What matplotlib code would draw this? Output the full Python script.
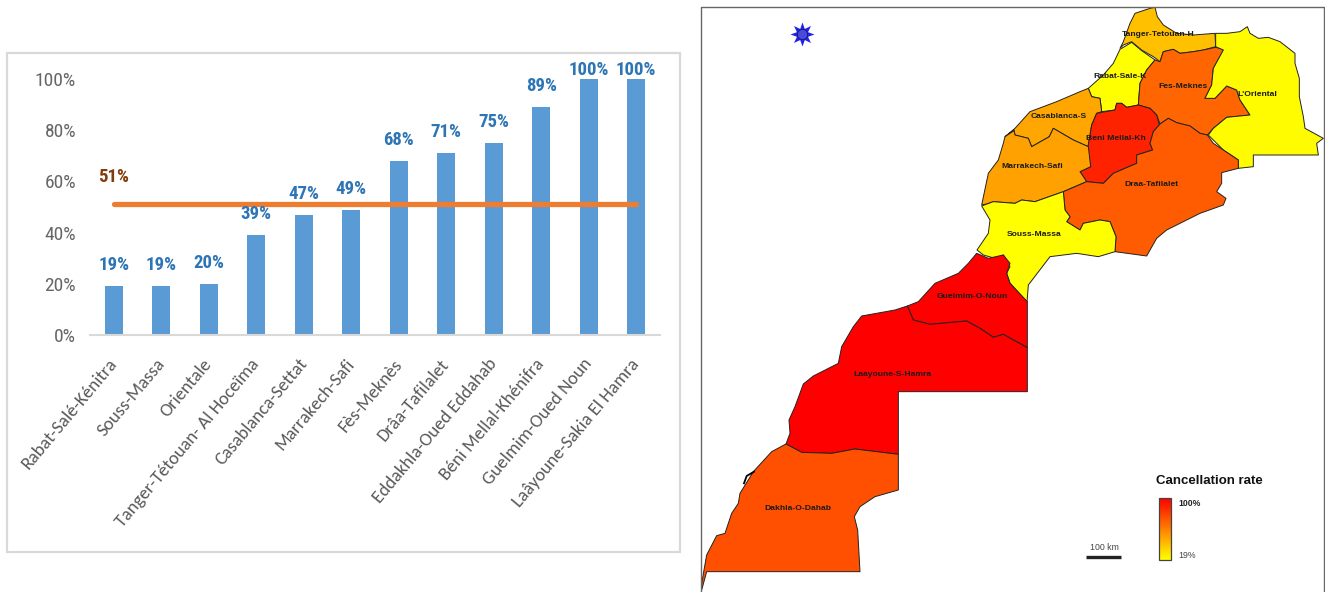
import numpy as np
import matplotlib
matplotlib.use("Agg")
import matplotlib.pyplot as plt
from matplotlib.colors import LinearSegmentedColormap
from matplotlib.patches import Polygon, Rectangle
from matplotlib.transforms import ScaledTranslation

W, H = 1325, 592

# bar chart data
regions = ["Rabat-Salé-Kénitra", "Souss-Massa", "Orientale", "Tanger-Tétouan- Al Hoceïma",
           "Casablanca-Settat", "Marrakech-Safi", "Fès-Meknès", "Drâa-Tafilalet",
           "Eddakhla-Oued Eddahab", "Béni Mellal-Khénifra", "Guelmim-Oued Noun",
           "Laâyoune-Sakia El Hamra"]
rates = [19, 19, 20, 39, 47, 49, 68, 71, 75, 89, 100, 100]
national_rate = 51
yticks = [0, 20, 40, 60, 80, 100]

# map labels and the rate each region is coloured by
map_names = ["Tanger-Tetouan-H", "Rabat-Sale-K", "Fes-Meknes", "L'Oriental", "Casablanca-S",
             "Beni Mellal-Kh", "Marrakech-Safi", "Draa-Tafilalet", "Souss-Massa",
             "Guelmim-O-Noun", "Laayoune-S-Hamra", "Dakhla-O-Dahab"]
map_rates = [39, 19, 68, 20, 47, 89, 49, 71, 19, 100, 100, 75]
map_label_xy = [(1158, 34), (1120, 76), (1183, 87), (1257, 95), (1059, 117), (1116, 138),
                (1032, 167), (1151, 185), (1034, 235), (972, 297), (892, 374), (798, 508)]

# outlines, northern sheet (x0=960, y0=0, 3 units per pixel)
tanger = [(480, 145), (490, 125), (510, 70), (525, 40), (570, 25), (585, 22), (592, 50), (610, 75),
          (650, 100), (700, 105), (765, 100), (767, 140), (730, 150), (700, 155), (660, 160),
          (640, 148), (610, 155), (600, 185), (580, 170), (545, 150), (515, 125), (490, 135)]
rabat = [(480, 148), (515, 127), (545, 152), (585, 180), (560, 210), (540, 250), (535, 315), (500, 322),
         (485, 310), (470, 310), (465, 330), (425, 335), (420, 295), (395, 290), (385, 265), (430, 225),
         (460, 190)]
oriental = [(767, 100), (800, 100), (840, 95), (862, 80), (870, 100), (895, 115), (925, 112), (960, 125),
            (1005, 160), (1005, 190), (1018, 235), (1018, 290), (1030, 350), (1035, 385), (1090, 415),
            (1070, 430), (1075, 465), (880, 465), (880, 500), (835, 505), (835, 480), (790, 450), (745, 405),
            (760, 385), (800, 352), (870, 345), (840, 300), (830, 270), (800, 258), (765, 295), (735, 295),
            (755, 255), (760, 205), (790, 150), (767, 140)]
fes = [(600, 185), (610, 155), (640, 148), (660, 160), (700, 155), (730, 150), (767, 142), (792, 148),
       (760, 205), (755, 255), (735, 295), (765, 295), (800, 258), (830, 270), (840, 300), (870, 345),
       (800, 352), (760, 385), (742, 405), (720, 400), (690, 378), (650, 368), (625, 355), (600, 372),
       (590, 345), (570, 325), (535, 315), (540, 250), (560, 210), (585, 180)]
beni = [(470, 310), (485, 310), (500, 322), (535, 315), (570, 325), (590, 345), (598, 375), (580, 395),
        (570, 430), (578, 450), (530, 465), (530, 490), (460, 520), (430, 550), (380, 545), (360, 515),
        (392, 500), (382, 450), (395, 375), (410, 340), (465, 330)]
casa = [(385, 265), (395, 290), (420, 295), (425, 335), (410, 340), (395, 375), (385, 440), (340, 420),
        (280, 385), (268, 410), (215, 440), (205, 415), (165, 405), (162, 390), (135, 410), (165, 385),
        (210, 335), (290, 305), (360, 275)]
marrakech = [(135, 410), (162, 392), (165, 405), (205, 415), (215, 440), (268, 410), (280, 385), (340, 420),
             (385, 440), (392, 500), (360, 515), (380, 545), (310, 575), (225, 605), (185, 600), (165, 610),
             (100, 605), (80, 612), (65, 615), (85, 520), (115, 480), (130, 430)]
draa = [(600, 372), (625, 355), (650, 368), (690, 378), (720, 400), (742, 405), (760, 430), (790, 450),
        (835, 480), (835, 505), (785, 518), (785, 550), (770, 575), (798, 595), (790, 615), (720, 640),
        (620, 690), (590, 715), (560, 768), (465, 755), (468, 710), (450, 665), (420, 660), (370, 670),
        (360, 690), (320, 665), (330, 650), (315, 630), (310, 575), (380, 545), (430, 550), (460, 520),
        (530, 490), (530, 465), (578, 450), (570, 430), (580, 395)]
souss = [(65, 618), (100, 605), (165, 610), (185, 600), (225, 605), (310, 575), (315, 630), (330, 650),
         (320, 665), (360, 690), (370, 670), (420, 660), (450, 665), (468, 710), (465, 755), (415, 770),
         (350, 760), (270, 770), (205, 855), (201, 906), (150, 849), (140, 820), (150, 800), (130, 765),
         (105, 775), (70, 765), (51, 750), (85, 700), (90, 660)]

# outlines, southern sheet (x0=695, y0=240, 3 units per pixel)
guelmim = [(845, 40), (820, 70), (790, 100), (720, 130), (670, 185), (637, 198), (655, 240), (705, 253),
           (815, 243), (855, 265), (895, 292), (925, 283), (997, 323), (997, 185), (945, 130), (935, 100),
           (945, 70), (925, 45), (880, 55)]
laayoune = [(637, 198), (600, 210), (500, 228), (475, 260), (440, 320), (430, 370), (355, 408), (325, 432),
            (300, 500), (282, 540), (285, 580), (273, 612), (320, 637), (410, 640), (480, 627), (610, 643),
            (610, 455), (997, 455), (997, 323), (925, 283), (895, 292), (855, 265), (815, 243), (705, 253),
            (655, 240)]
dakhla = [(273, 612), (320, 637), (410, 640), (480, 627), (610, 643), (610, 750), (540, 770), (495, 800),
          (478, 830), (488, 870), (495, 995), (35, 995), (20, 1050), (20, 1030), (35, 945), (65, 887),
          (90, 880), (110, 820), (130, 790), (135, 760), (175, 695), (230, 635)]
lagoon = [(147, 730), (155, 708), (177, 695)]


def north(pts):
    return [(960 + x / 3, y / 3) for x, y in pts]


def south(pts):
    return [(695 + x / 3, 240 + y / 3) for x, y in pts]


outlines = [north(tanger), north(rabat), north(fes), north(oriental), north(casa), north(beni),
            north(marrakech), north(draa), north(souss), south(guelmim), south(laayoune), south(dakhla)]

narrow = ["Roboto Condensed", "Carlito", "Lato", "DejaVu Sans"]
body = ["Carlito", "Lato", "DejaVu Sans"]
plt.rcParams["font.family"] = ["Liberation Sans", "DejaVu Sans"]
fig = plt.figure(figsize=(W / 100, H / 100), dpi=100)

# full figure axes in pixel units for the frames and the map
bg = fig.add_axes([0, 0, 1, 1])
bg.set_xlim(0, W)
bg.set_ylim(H, 0)
bg.axis("off")
bg.add_patch(Rectangle((7, 53), 673, 499, fc="white", ec="#D9D9D9", lw=1.6))
bg.plot([701, 701, 1324, 1324], [H, 7, 7, H], color="#666666", lw=1.0)

# bar chart
ax = fig.add_axes([90 / W, 1 - 335 / H, 570 / W, 256 / H])
ax.patch.set_visible(False)
x = np.arange(len(regions))
ax.bar(x, rates, width=0.37, color="#5B9BD5", zorder=2)
ax.plot([x[0], x[-1]], [national_rate, national_rate], color="#ED7D31", lw=3.8,
        solid_capstyle="round", zorder=3)
ax.set_xlim(-0.5, len(regions) - 0.5)
ax.set_ylim(0, 100)
for s in ["top", "left", "right"]:
    ax.spines[s].set_visible(False)
ax.spines["bottom"].set_color("#D9D9D9")
ax.spines["bottom"].set_linewidth(1.5)
ax.set_yticks(yticks)
ax.set_yticklabels([f"{v}%" for v in yticks], fontsize=14, color="#666666", family=narrow)
ax.tick_params(axis="y", length=0, pad=10)
ax.set_xticks(x)
ax.set_xticklabels(regions, rotation=50, ha="right", va="top", rotation_mode="anchor",
                   fontsize=13.2, color="#595959", family=body)
ax.tick_params(axis="x", length=0, pad=15)
# nudge the slanted labels left of their ticks
nudge = ScaledTranslation(-6 / 100, 0, fig.dpi_scale_trans)
for lab in ax.get_xticklabels():
    lab.set_transform(lab.get_transform() + nudge)
for xi, v in zip(x, rates):
    ax.text(xi, min(v + 8.2, 103.5), f"{v}%", ha="center", va="center", fontsize=13.5, fontweight="bold",
            color="#2E75B6", family=narrow, clip_on=False)
ax.text(x[0], 61.7, f"{national_rate}%", ha="center", va="center", fontsize=13.5, fontweight="bold",
        color="#843C0C", family=narrow)

# choropleth, colour follows the same ramp as the legend
ramp = LinearSegmentedColormap.from_list("ramp", ["#FFFF00", "#FF0000"])
for pts, v in zip(outlines, map_rates):
    colour = ramp((v - min(rates)) / (max(rates) - min(rates)))
    bg.add_patch(Polygon(pts, closed=True, fc=colour, ec="#222222", lw=0.7, joinstyle="round"))
lx, ly = zip(*south(lagoon))
bg.plot(lx, ly, color="black", lw=1.3)

for name, (px, py) in zip(map_names, map_label_xy):
    bg.text(px, py, name, ha="center", va="center", fontsize=6.1, fontweight="bold", color="#1a1a1a")

# compass star
bg.scatter([802], [34], marker=(8, 1, 0), s=300, color="#2222EE", lw=0, zorder=4)
bg.scatter([802], [34], marker="o", s=55, color="#4A4AD8", edgecolor="#14147A", lw=0.6, zorder=5)

# legend
bg.text(1209, 481, "Cancellation rate", ha="center", va="center", fontsize=9.5, fontweight="bold",
        color="#111111")
bar_img = np.linspace(1, 0, 64).reshape(-1, 1)
bg.imshow(bar_img, cmap=ramp, extent=(1159, 1171, 560, 498), aspect="auto", zorder=3)
bg.add_patch(Rectangle((1159, 498), 12, 62, fc="none", ec="#444444", lw=0.9, zorder=4))
bg.text(1178, 504, "100%", ha="left", va="center", fontsize=6.3, fontweight="bold", color="#222222")
bg.text(1178, 555, "19%", ha="left", va="center", fontsize=6.3, color="#444444")

# scale bar
bg.plot([1086, 1121], [557, 557], color="#222222", lw=2.4, solid_capstyle="butt")
bg.text(1104, 548, "100 km", ha="center", va="center", fontsize=6.3, color="#444444")
bg.set_xlim(0, W)
bg.set_ylim(H, 0)

fig.savefig("out.png", dpi=100)
